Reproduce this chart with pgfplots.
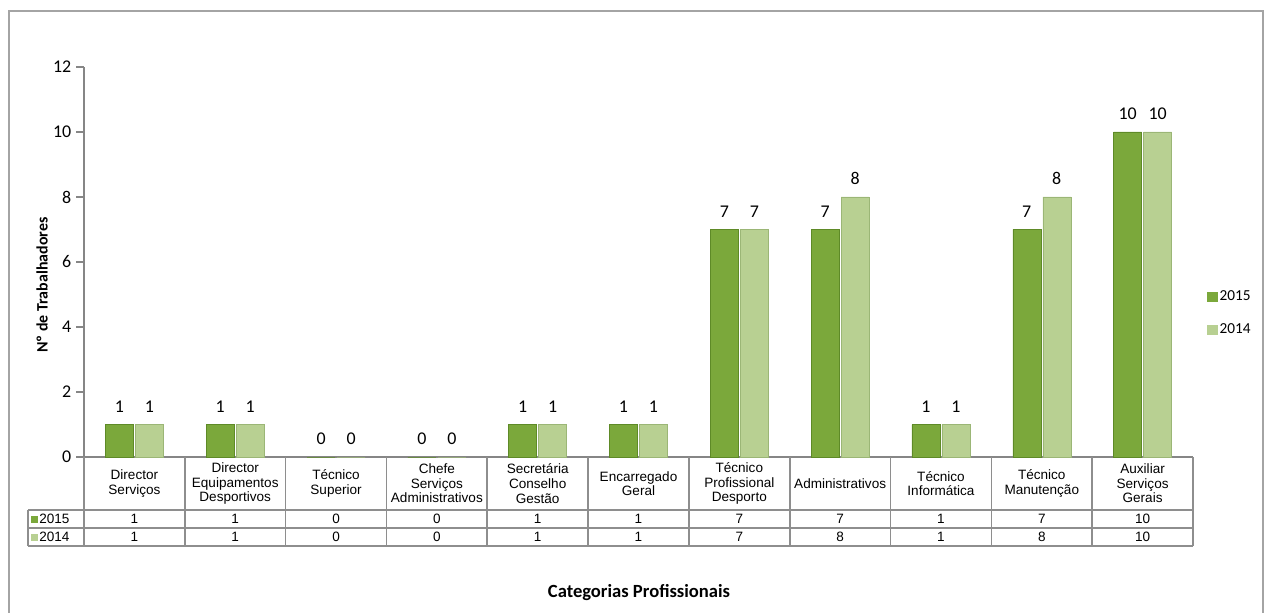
\documentclass[border=0pt]{standalone}
\usepackage{pgfplots}
\pgfplotsset{compat=1.18}
\usepackage{fontspec}
\setmainfont{Carlito}
\newfontfamily\arialf{Liberation Sans}
\definecolor{gA}{HTML}{7BA83B}
\definecolor{gAd}{HTML}{5E8A27}
\definecolor{gB}{HTML}{B8D092}
\definecolor{gBd}{HTML}{9BB676}
\definecolor{axgray}{HTML}{868686}
\definecolor{tblgray}{HTML}{8E8E8E}
\begin{document}
\begin{tikzpicture}[x=0.75bp,y=0.75bp]
\useasboundingbox (0,0) rectangle (1265,612);
\draw[tblgray!80, line width=1.5bp] (9,-5) -- (9,601) -- (1263,601) -- (1263,-5);
\begin{axis}[
 at={(63bp,116.25bp)}, anchor=south west, scale only axis,
 width=831.75bp, height=292.5bp,
 xmin=-0.5, xmax=10.5, ymin=0, ymax=12,
 ytick={0,2,4,6,8,10,12}, xtick=\empty,
 axis x line*=bottom, axis y line*=left,
 axis line style={axgray, line width=1bp, -},
 ytick style={axgray, line width=1bp}, major tick length=6bp, tick align=outside,
 yticklabel style={font=\fontsize{13.5}{16}\selectfont, /pgf/number format/assume math mode=true},
 clip=false,
 legend style={at={(1.009,0.369)}, anchor=west, draw=none, fill=none, font=\fontsize{11.5}{13}\selectfont, row sep=12bp, legend cell align=left},
]
\addplot[ybar, bar width=21bp, bar shift=-11.25bp, draw=gAd, line width=0.3bp, fill=gA,
  nodes near coords,
  every node near coord/.append style={font=\fontsize{13.5}{16}\selectfont, black, xshift=-11.25bp, yshift=5.5bp, /pgf/number format/assume math mode=true},
  legend image code/.code={\fill[gA] (0bp,-3.5bp) rectangle (7bp,3.5bp);}]
  coordinates {(0,1) (1,1) (2,0) (3,0) (4,1) (5,1) (6,7) (7,7) (8,1) (9,7) (10,10)};
\addlegendentry{2015}
\addplot[ybar, bar width=21bp, bar shift=11.25bp, draw=gBd, line width=0.3bp, fill=gB,
  nodes near coords,
  every node near coord/.append style={font=\fontsize{13.5}{16}\selectfont, black, xshift=11.25bp, yshift=5.5bp, /pgf/number format/assume math mode=true},
  legend image code/.code={\fill[gB] (0bp,-3.5bp) rectangle (7bp,3.5bp);}]
  coordinates {(0,1) (1,1) (2,0) (3,0) (4,1) (5,1) (6,7) (7,8) (8,1) (9,8) (10,10)};
\addlegendentry{2014}
\end{axis}
% data table
\def\w{100.818}
\foreach \k in {0,...,11} \draw[tblgray, line width=1.2bp] ({84+\k*\w},155) -- ({84+\k*\w},66);
\draw[tblgray, line width=1.2bp] (28,102) -- (1193,102);
\draw[tblgray, line width=1.2bp] (28,84) -- (1193,84);
\draw[tblgray, line width=1.2bp] (28,66) -- (1193,66);
\draw[tblgray, line width=1.2bp] (28,102) -- (28,66);
\foreach \i/\name in {0/{Director\\Serviços},1/{Director\\Equipamentos\\Desportivos},2/{Técnico\\Superior},3/{Chefe\\Serviços\\Administrativos},4/{Secretária\\Conselho\\Gestão},5/{Encarregado\\Geral},6/{Técnico\\Profissional\\Desporto},7/{Administrativos},8/{Técnico\\Informática},9/{Técnico\\Manutenção},10/{Auxiliar\\Serviços\\Gerais}}
  \node[align=center, font=\arialf\fontsize{10.2}{11}\selectfont, inner sep=0pt] at ({84+(\i+0.5)*\w},128.5) {\name};
\foreach \i/\a/\b in {0/1/1,1/1/1,2/0/0,3/0/0,4/1/1,5/1/1,6/7/7,7/7/8,8/1/1,9/7/8,10/10/10}{
  \node[font=\arialf\fontsize{10.2}{11}\selectfont, inner sep=0pt] at ({84+(\i+0.5)*\w},93) {\a};
  \node[font=\arialf\fontsize{10.2}{11}\selectfont, inner sep=0pt] at ({84+(\i+0.5)*\w},75) {\b};
}
\fill[gA] (31,89.5) rectangle (38,96.5);
\node[anchor=west, font=\arialf\fontsize{10.2}{11}\selectfont, inner sep=0pt] at (39,93) {2015};
\fill[gB] (31,71.5) rectangle (38,78.5);
\node[anchor=west, font=\arialf\fontsize{10.2}{11}\selectfont, inner sep=0pt] at (39,75) {2014};
\node[rotate=90, font=\bfseries\fontsize{12}{14}\selectfont] at (42,327) {Nº de Trabalhadores};
\node[font=\bfseries\fontsize{14}{16}\selectfont] at (639,19) {Categorias Profissionais};
\end{tikzpicture}
\end{document}
